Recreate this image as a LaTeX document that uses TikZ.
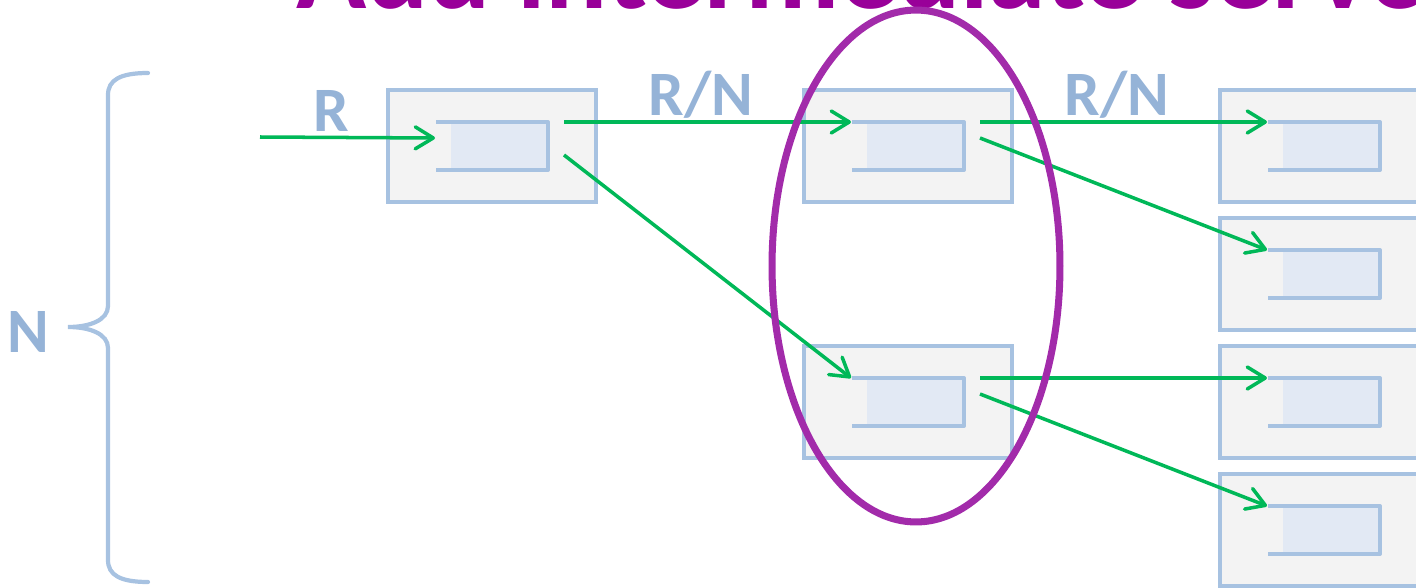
\documentclass[tikz,border=0pt]{standalone}
\usepackage{fontspec}
\setmainfont{Carlito}
\usetikzlibrary{arrows.meta}

\definecolor{boxline}{HTML}{A7C2E1}
\definecolor{boxfill}{HTML}{F3F3F3}
\definecolor{queuefill}{HTML}{E2E9F4}
\definecolor{labelblue}{HTML}{95B3D7}
\definecolor{flowgreen}{HTML}{00B858}
\definecolor{titlepurple}{HTML}{990099}
\definecolor{ringpurple}{HTML}{A22BAA}

\tikzset{
    server/.style={draw=boxline, fill=boxfill, line width=2.4pt, minimum width=4.16cm, minimum height=2.24cm, inner sep=0pt},
    queue/.style={draw=boxline, line width=2.2pt, line join=round},
    flow/.style={draw=flowgreen, line width=2pt, -{Straight Barb[length=3.6mm, width=4.4mm, round]}},
    lbl/.style={text=labelblue, font=\fontsize{36}{36}\selectfont\bfseries, inner sep=0pt, anchor=base},
}

% server box with its queue; #1 name, #2 centre
\newcommand{\srvbox}[2]{
    \node[server] (#1) at #2 {};
    \fill[queuefill] ([shift={(-41,-24)}]#1.center) rectangle ([shift={(56,24)}]#1.center);
    \draw[queue] ([shift={(-56,-24)}]#1.center) -- ([shift={(56,-24)}]#1.center)
        -- ([shift={(56,24)}]#1.center) -- ([shift={(-56,24)}]#1.center);
    \coordinate (#1-in) at ([shift={(-57,-24)}]#1.center);
    \coordinate (#1-out) at ([shift={(72,-24)}]#1.center);
}

\begin{document}
\begin{tikzpicture}[x=0.02cm, y=-0.02cm]
    \useasboundingbox (0,0) rectangle (1416,588);
    \clip (0,0) rectangle (1416,588);

    \node[anchor=base west, inner sep=0pt, text=titlepurple, font=\fontsize{66}{66}\selectfont\bfseries]
        (title) at (296,8.5) {Add intermediate servers};

    % brace over the N servers
    \draw[boxline, line width=2.4pt, line cap=round]
    (148,73) .. controls (120,73) and (108,80) .. (108,95)
    -- (108,306) .. controls (108,320) and (90,327) .. (68,327)
    .. controls (90,327) and (108,334) .. (108,348)
    -- (108,560) .. controls (108,575) and (120,582) .. (148,582);

    \srvbox{s1}{(492,146)}
    \srvbox{s2}{(908,146)}
    \srvbox{s3}{(908,402)}
    \srvbox{r1}{(1324,146)}
    \srvbox{r2}{(1324,274)}
    \srvbox{r3}{(1324,402)}
    \srvbox{r4}{(1324,530)}

    \coordinate (src) at (260,137);
    \draw[flow] (src) -- ([shift={(0,16)}]s1-in);
    \draw[flow] (s1-out) -- (s2-in);
    \draw[flow] ([shift={(0,33)}]s1-out) -- (s3-in);
    \draw[flow] (s2-out) -- (r1-in);
    \draw[flow] ([shift={(0,16)}]s2-out) -- (r2-in);
    \draw[flow] (s3-out) -- (r3-in);
    \draw[flow] ([shift={(0,16)}]s3-out) -- (r4-in);

    \node[lbl] (rate) at (331,132) {R};
    \node[lbl] (share1) at (701,115) {R/N};
    \node[lbl] (share2) at (1117,115) {R/N};
    \node[lbl] (count) at (28,352) {N};

    % the intermediate tier
    \draw[ringpurple, line width=4pt] (916,266) ellipse [x radius=2.88cm, y radius=5.12cm];
\end{tikzpicture}
\end{document}
